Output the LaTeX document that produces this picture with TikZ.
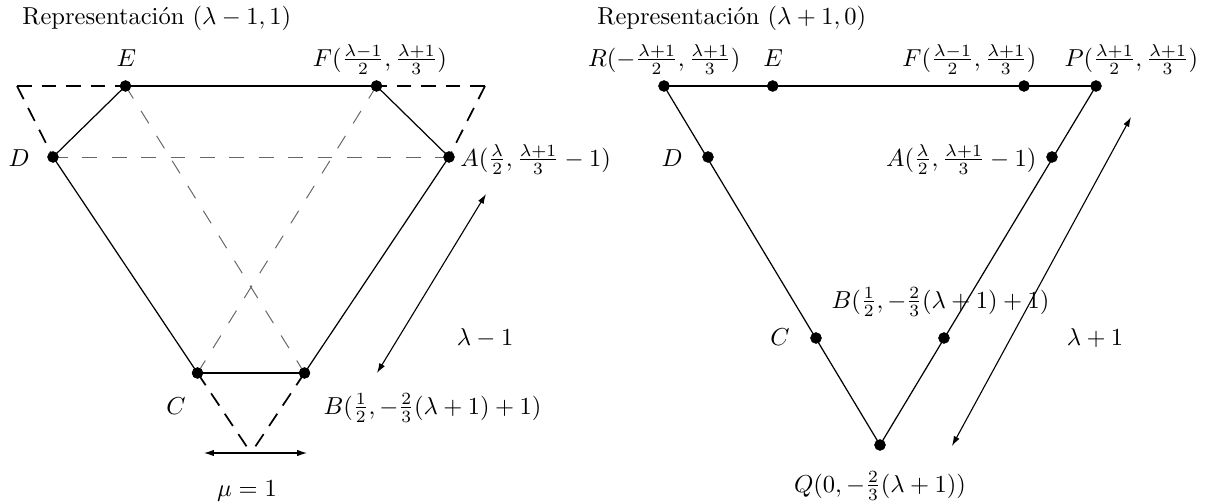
\documentclass[tikz,border=0pt]{standalone}
\usepackage{fontspec}
\usetikzlibrary{arrows.meta}
\begin{document}
\begin{tikzpicture}[x=0.408pt,y=-0.408pt,
  dot/.style={circle,fill=black,inner sep=0pt,minimum size=4.6pt},
  edge/.style={line width=0.5pt},
  topedge/.style={line width=0.9pt},
  outerdash/.style={line width=0.7pt,dash pattern=on 6pt off 4pt},
  innerdash/.style={line width=0.4pt,black!60,dash pattern=on 6pt off 6pt},
  measure/.style={line width=0.45pt,{Latex[length=4pt,width=2.6pt]}-{Latex[length=4pt,width=2.6pt]}},
  lbl/.style={inner sep=0pt,anchor=base}]
\useasboundingbox (0,0) rectangle (1216,503);
% titles
\node[lbl,anchor=base west] (t1) at (22,24) {Representación $(\lambda-1,1)$};
\node[lbl,anchor=base west] (t2) at (597,24) {Representación $(\lambda+1,0)$};
% ---------- left diagram ----------
\coordinate (LTL) at (17,86);
\coordinate (LTR) at (485,86);
\coordinate (LAp) at (251,453);
\node[dot] (lE) at (125.5,86) {};
\node[dot] (lF) at (376.5,86) {};
\node[dot] (lD) at (53,157) {};
\node[dot] (lA) at (449,157) {};
\node[dot] (lC) at (197.5,373) {};
\node[dot] (lB) at (304.5,373) {};
\begin{scope}[on background layer/.style={}]
\draw[outerdash] (LTL) -- (lE.center);
\draw[outerdash] (LTR) -- (lF.center);
\draw[outerdash] (LTL) -- (lD.center);
\draw[outerdash] (LTR) -- (lA.center);
\draw[outerdash] (lC.center) -- (LAp);
\draw[outerdash] (lB.center) -- (LAp);
\draw[innerdash] (lD.center) -- (lA.center);
\draw[innerdash] (lE.center) -- (lB.center);
\draw[innerdash] (lF.center) -- (lC.center);
\end{scope}
\draw[topedge] (lE.center) -- (lF.center);
\draw[topedge] (lC.center) -- (lB.center);
\draw[edge] (lD.center) -- (lE.center);
\draw[edge] (lF.center) -- (lA.center);
\draw[edge] (lA.center) -- (lB.center);
\draw[edge] (lC.center) -- (lD.center);
\node[dot] at (lE) {};\node[dot] at (lF) {};\node[dot] at (lD) {};
\node[dot] at (lA) {};\node[dot] at (lC) {};\node[dot] at (lB) {};
\node[lbl] (lEl) at (126.5,66) {$E$};
\node[lbl] (lFl) at (380,66) {$F(\frac{\lambda-1}{2},\frac{\lambda+1}{3})$};
\node[lbl] (lDl) at (19,166) {$D$};
\node[lbl,anchor=base west] (lAl) at (460,166) {$A(\frac{\lambda}{2},\frac{\lambda+1}{3}-1)$};
\node[lbl] (lCl) at (176,414) {$C$};
\node[lbl,anchor=base east] (lBl) at (542,414) {$B(\frac12,-\frac23(\lambda+1)+1)$};
\node[lbl] (lam1) at (485,345) {$\lambda-1$};
\node[lbl] (mu) at (247,496) {$\mu=1$};
\coordinate (a1s) at (377,373);
\coordinate (a1e) at (486,194);
\draw[measure] (a1s) -- (a1e);
\coordinate (m1) at (204,453);
\coordinate (m2) at (307,453);
\draw[measure] (m1) -- (m2);
% ---------- right diagram ----------
\node[dot] (rR) at (664,86) {};
\node[dot] (rE) at (772.7,86) {};
\node[dot] (rF) at (1024,86) {};
\node[dot] (rP) at (1096,86) {};
\node[dot] (rD) at (708,157) {};
\node[dot] (rA) at (1052,157) {};
\node[dot] (rC) at (816,338) {};
\node[dot] (rB) at (944,338) {};
\node[dot] (rQ) at (880,445) {};
\draw[topedge] (rR.center) -- (rP.center);
\draw[edge] (rR.center) -- (rQ.center);
\draw[edge] (rP.center) -- (rQ.center);
\foreach \n in {rR,rE,rF,rP,rD,rA,rC,rB,rQ} {\node[dot] at (\n) {};}
\node[lbl,anchor=base east] (rRl) at (741,66) {$R(-\frac{\lambda+1}{2},\frac{\lambda+1}{3})$};
\node[lbl] (rEl) at (773,66) {$E$};
\node[lbl,anchor=base east] (rFl) at (1037,66) {$F(\frac{\lambda-1}{2},\frac{\lambda+1}{3})$};
\node[lbl,anchor=base west] (rPl) at (1064,66) {$P(\frac{\lambda+1}{2},\frac{\lambda+1}{3})$};
\node[lbl] (rDl) at (672,166) {$D$};
\node[lbl,anchor=base east] (rAl) at (1037,166) {$A(\frac{\lambda}{2},\frac{\lambda+1}{3}-1)$};
\node[lbl,anchor=base west] (rBl) at (831,308) {$B(\frac12,-\frac23(\lambda+1)+1)$};
\node[lbl] (rCl) at (780,345) {$C$};
\node[lbl] (lam2) at (1095,345) {$\lambda+1$};
\node[lbl] (rQl) at (880,492) {$Q(0,-\frac23(\lambda+1))$};
\coordinate (a2s) at (952,446);
\coordinate (a2e) at (1131,117);
\draw[measure] (a2s) -- (a2e);
\end{tikzpicture}
\end{document}
